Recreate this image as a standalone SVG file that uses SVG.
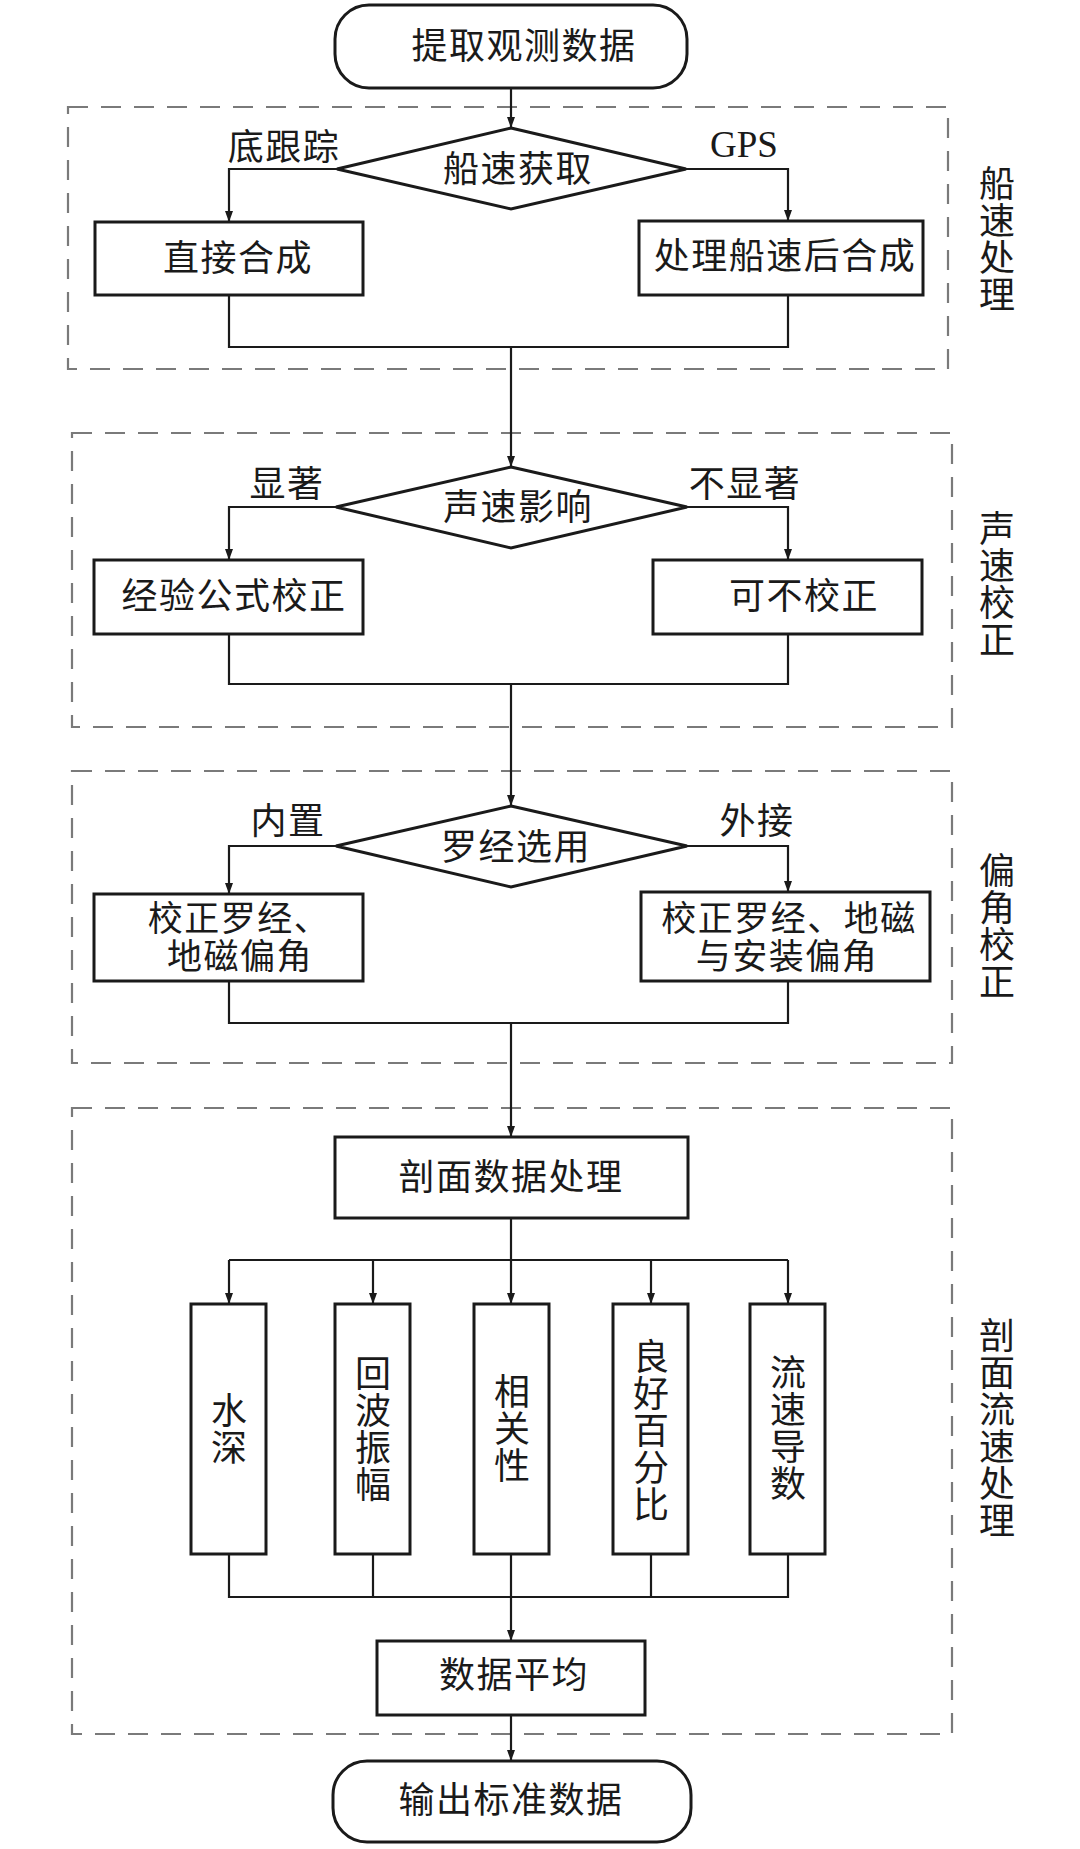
<svg xmlns="http://www.w3.org/2000/svg" width="1080" height="1849" viewBox="0 0 1080 1849">
<style>
.bg{fill:#ffffff}
.box{fill:#ffffff;stroke:#1a1a1a;stroke-width:3}
.dia{fill:#ffffff;stroke:#1a1a1a;stroke-width:3}
.grp{fill:none;stroke:#7a7a7a;stroke-width:2.2;stroke-dasharray:20 13}
.con{fill:none;stroke:#1a1a1a;stroke-width:2.2}
.t{font-family:"Noto Sans CJK SC","Noto Sans",sans-serif;font-size:36px;fill:#1a1a1a;text-anchor:middle;letter-spacing:1.5px}
.v{font-family:"Noto Sans CJK SC","Noto Sans",sans-serif;font-size:36px;fill:#1a1a1a;text-anchor:middle;writing-mode:vertical-rl;letter-spacing:1px}
.lat{font-family:"Liberation Serif","Times New Roman",serif;font-size:37px;fill:#1a1a1a;text-anchor:middle}
</style>
<defs>
<marker id="arr" viewBox="0 0 10 10" refX="10" refY="5" markerWidth="11" markerHeight="8" preserveAspectRatio="none" orient="auto" markerUnits="userSpaceOnUse">
<path d="M0,0 L10,5 L0,10 z" fill="#1a1a1a"/>
</marker>
</defs>
<rect class="bg" x="0" y="0" width="1080" height="1849"/>

<g id="groups">
<g id="grp-ship"><rect class="grp" x="68" y="107" width="880" height="262"/>
<text class="v" x="997" y="239">船速处理</text></g>
<g id="grp-sound"><rect class="grp" x="72" y="433" width="880" height="294"/>
<text class="v" x="997" y="584">声速校正</text></g>
<g id="grp-angle"><rect class="grp" x="72" y="771" width="880" height="292"/>
<text class="v" x="997" y="926">偏角校正</text></g>
<g id="grp-profile"><rect class="grp" x="72" y="1108" width="880" height="626"/>
<text class="v" x="997" y="1428">剖面流速处理</text></g>
</g>

<g id="connectors">
<path class="con" d="M511,88 V128" marker-end="url(#arr)"/>
<path class="con" d="M337,169 H229 V222" marker-end="url(#arr)"/>
<path class="con" d="M686,169 H788 V221" marker-end="url(#arr)"/>
<path class="con" d="M229,295 V347 H788 V295"/>
<path class="con" d="M511,347 V467" marker-end="url(#arr)"/>
<path class="con" d="M336,507 H229 V560" marker-end="url(#arr)"/>
<path class="con" d="M687,507 H788 V560" marker-end="url(#arr)"/>
<path class="con" d="M229,634 V684 H788 V634"/>
<path class="con" d="M511,684 V806" marker-end="url(#arr)"/>
<path class="con" d="M336,846 H229 V894" marker-end="url(#arr)"/>
<path class="con" d="M687,846 H788 V892" marker-end="url(#arr)"/>
<path class="con" d="M229,981 V1023 H788 V981"/>
<path class="con" d="M511,1023 V1137" marker-end="url(#arr)"/>
<path class="con" d="M511,1218 V1304" marker-end="url(#arr)"/>
<path class="con" d="M229,1260 H788"/>
<path class="con" d="M229,1260 V1304" marker-end="url(#arr)"/>
<path class="con" d="M373,1260 V1304" marker-end="url(#arr)"/>
<path class="con" d="M651,1260 V1304" marker-end="url(#arr)"/>
<path class="con" d="M788,1260 V1304" marker-end="url(#arr)"/>
<path class="con" d="M229,1554 V1597 H788 V1554"/>
<path class="con" d="M373,1554 V1597"/>
<path class="con" d="M651,1554 V1597"/>
<path class="con" d="M511,1554 V1641" marker-end="url(#arr)"/>
<path class="con" d="M511,1715 V1761" marker-end="url(#arr)"/>
<text class="t" x="284" y="160">底跟踪</text>
<text class="lat" x="744" y="157">GPS</text>
<text class="t" x="287" y="497">显著</text>
<text class="t" x="745" y="497">不显著</text>
<text class="t" x="288" y="834">内置</text>
<text class="t" x="757" y="834">外接</text>
</g>

<g id="n-start"><rect class="box" x="335" y="5" width="352" height="83" rx="34" ry="34"/>
<text class="t" x="524" y="59">提取观测数据</text></g>

<g id="n-d1"><polygon class="dia" points="511,128 686,169 511,209 337,169"/>
<text class="t" x="518" y="182">船速获取</text></g>
<g id="n-direct"><rect class="box" x="95" y="222" width="268" height="73"/>
<text class="t" x="238" y="271">直接合成</text></g>
<g id="n-gps"><rect class="box" x="639" y="221" width="284" height="74"/>
<text class="t" x="785" y="269">处理船速后合成</text></g>

<g id="n-d2"><polygon class="dia" points="511,467 687,507 511,548 336,507"/>
<text class="t" x="518" y="520">声速影响</text></g>
<g id="n-emp"><rect class="box" x="94" y="560" width="269" height="74"/>
<text class="t" x="234" y="609">经验公式校正</text></g>
<g id="n-none"><rect class="box" x="653" y="560" width="269" height="74"/>
<text class="t" x="804" y="609">可不校正</text></g>

<g id="n-d3"><polygon class="dia" points="511,806 687,846 511,887 336,846"/>
<text class="t" x="516" y="860">罗经选用</text></g>
<g id="n-inner"><rect class="box" x="94" y="894" width="269" height="87"/>
<text class="t" style="font-size:35px"><tspan x="239" y="931">校正罗经、</tspan><tspan x="240" y="969">地磁偏角</tspan></text></g>
<g id="n-outer"><rect class="box" x="641" y="892" width="289" height="89"/>
<text class="t" style="font-size:35px"><tspan x="789" y="931">校正罗经、地磁</tspan><tspan x="787" y="969">与安装偏角</tspan></text></g>

<g id="n-profile"><rect class="box" x="335" y="1137" width="353" height="81"/>
<text class="t" x="511" y="1190">剖面数据处理</text></g>

<g id="n-depth"><rect class="box" x="191" y="1304" width="75" height="250"/>
<text class="v" x="229" y="1429">水深</text></g>
<g id="n-echo"><rect class="box" x="335" y="1304" width="75" height="250"/>
<text class="v" x="373" y="1429">回波振幅</text></g>
<g id="n-corr"><rect class="box" x="474" y="1304" width="75" height="250"/>
<text class="v" x="512" y="1429">相关性</text></g>
<g id="n-good"><rect class="box" x="613" y="1304" width="75" height="250"/>
<text class="v" x="651" y="1431">良好百分比</text></g>
<g id="n-deriv"><rect class="box" x="750" y="1304" width="75" height="250"/>
<text class="v" x="788" y="1428">流速导数</text></g>

<g id="n-avg"><rect class="box" x="377" y="1641" width="268" height="74"/>
<text class="t" x="514" y="1688">数据平均</text></g>

<g id="n-end"><rect class="box" x="333" y="1761" width="358" height="81" rx="34" ry="34"/>
<text class="t" x="511" y="1813">输出标准数据</text></g>
</svg>
